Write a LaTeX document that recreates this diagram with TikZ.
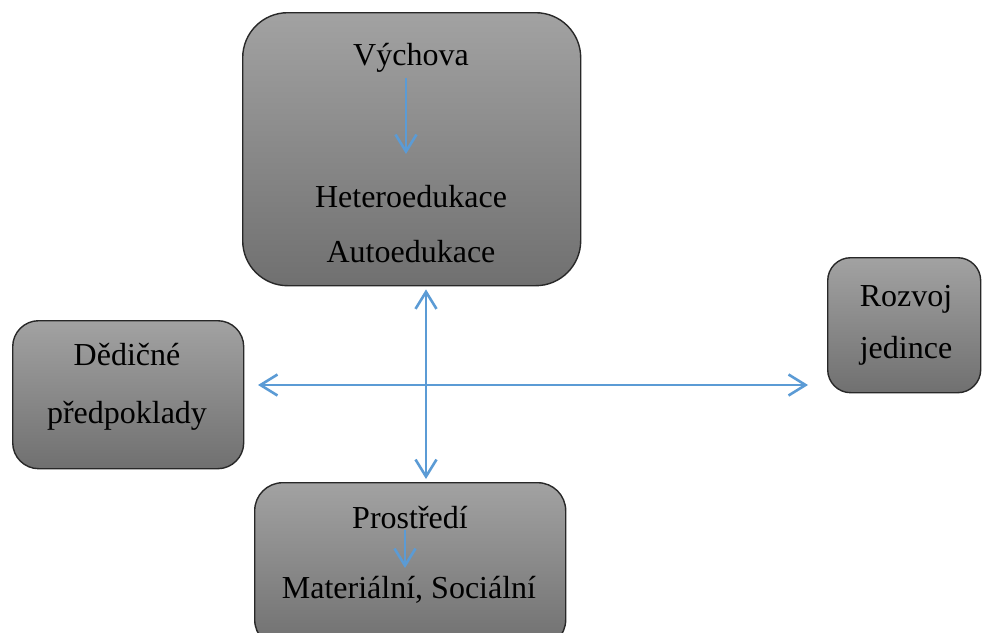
\documentclass[tikz,border=0pt]{standalone}
\usepackage{fontspec}
\setmainfont{Liberation Serif}
\usetikzlibrary{arrows.meta}
\definecolor{arrowblue}{RGB}{91,155,213}
\definecolor{boxtop}{RGB}{162,162,162}
\definecolor{boxbottom}{RGB}{112,112,112}
\definecolor{boxline}{RGB}{40,40,40}
\tikzset{
  box/.style={draw=boxline, line width=1.4pt, top color=boxtop, bottom color=boxbottom, inner sep=0pt, anchor=north west},
  label/.style={font=\fontsize{32}{38}\selectfont, inner sep=0pt, anchor=base},
  conn/.style={draw=arrowblue, line width=2.6pt, -{Straight Barb[length=17pt,width=21pt,line width=2.6pt]}},
  dconn/.style={draw=arrowblue, line width=2.6pt, {Straight Barb[length=17pt,width=21pt,line width=2.6pt]}-{Straight Barb[length=17pt,width=21pt,line width=2.6pt]}}
}
\begin{document}
\begin{tikzpicture}[x=1pt,y=-1pt]
\useasboundingbox (0,0) rectangle (984,632);
\clip (0,0) rectangle (984,632);
% boxes
\node[box, minimum width=338pt, minimum height=273pt, rounded corners=45pt] (top) at (242,12) {};
\node[box, minimum width=231pt, minimum height=148pt, rounded corners=26pt] (left) at (12,320) {};
\node[box, minimum width=153pt, minimum height=135pt, rounded corners=23pt] (right) at (827,257) {};
\node[box, minimum width=311pt, minimum height=165pt, rounded corners=28pt] (bottom) at (254,482) {};
% texts
\node[label] (vych) at (411,65) {Výchova};
\node[label] (hetero) at (411,207) {Heteroedukace};
\node[label] (auto) at (411,262) {Autoedukace};
\node[label] (ded) at (127,365) {Dědičné};
\node[label] (pred) at (127,423) {předpoklady};
\node[label] (rozvoj) at (906,306) {Rozvoj};
\node[label] (jed) at (906,358) {jedince};
\node[label] (prost) at (410,528) {Prostředí};
\node[label] (mat) at (409,598) {Materiální, Sociální};
% inner arrows
\coordinate (va) at (406,78);
\coordinate (vb) at (406,154);
\draw[conn] (va) -- (vb);
\coordinate (pa) at (405,530);
\coordinate (pb) at (405,568);
\draw[conn] (pa) -- (pb);
% cross arrows
\draw[dconn, shorten <=3pt, shorten >=3pt] (top.south -| 426,0) -- (bottom.north -| 426,0);
\coordinate (hl) at (258,385);
\coordinate (hr) at (808,385);
\draw[dconn] (hl) -- (hr);
\end{tikzpicture}
\end{document}
